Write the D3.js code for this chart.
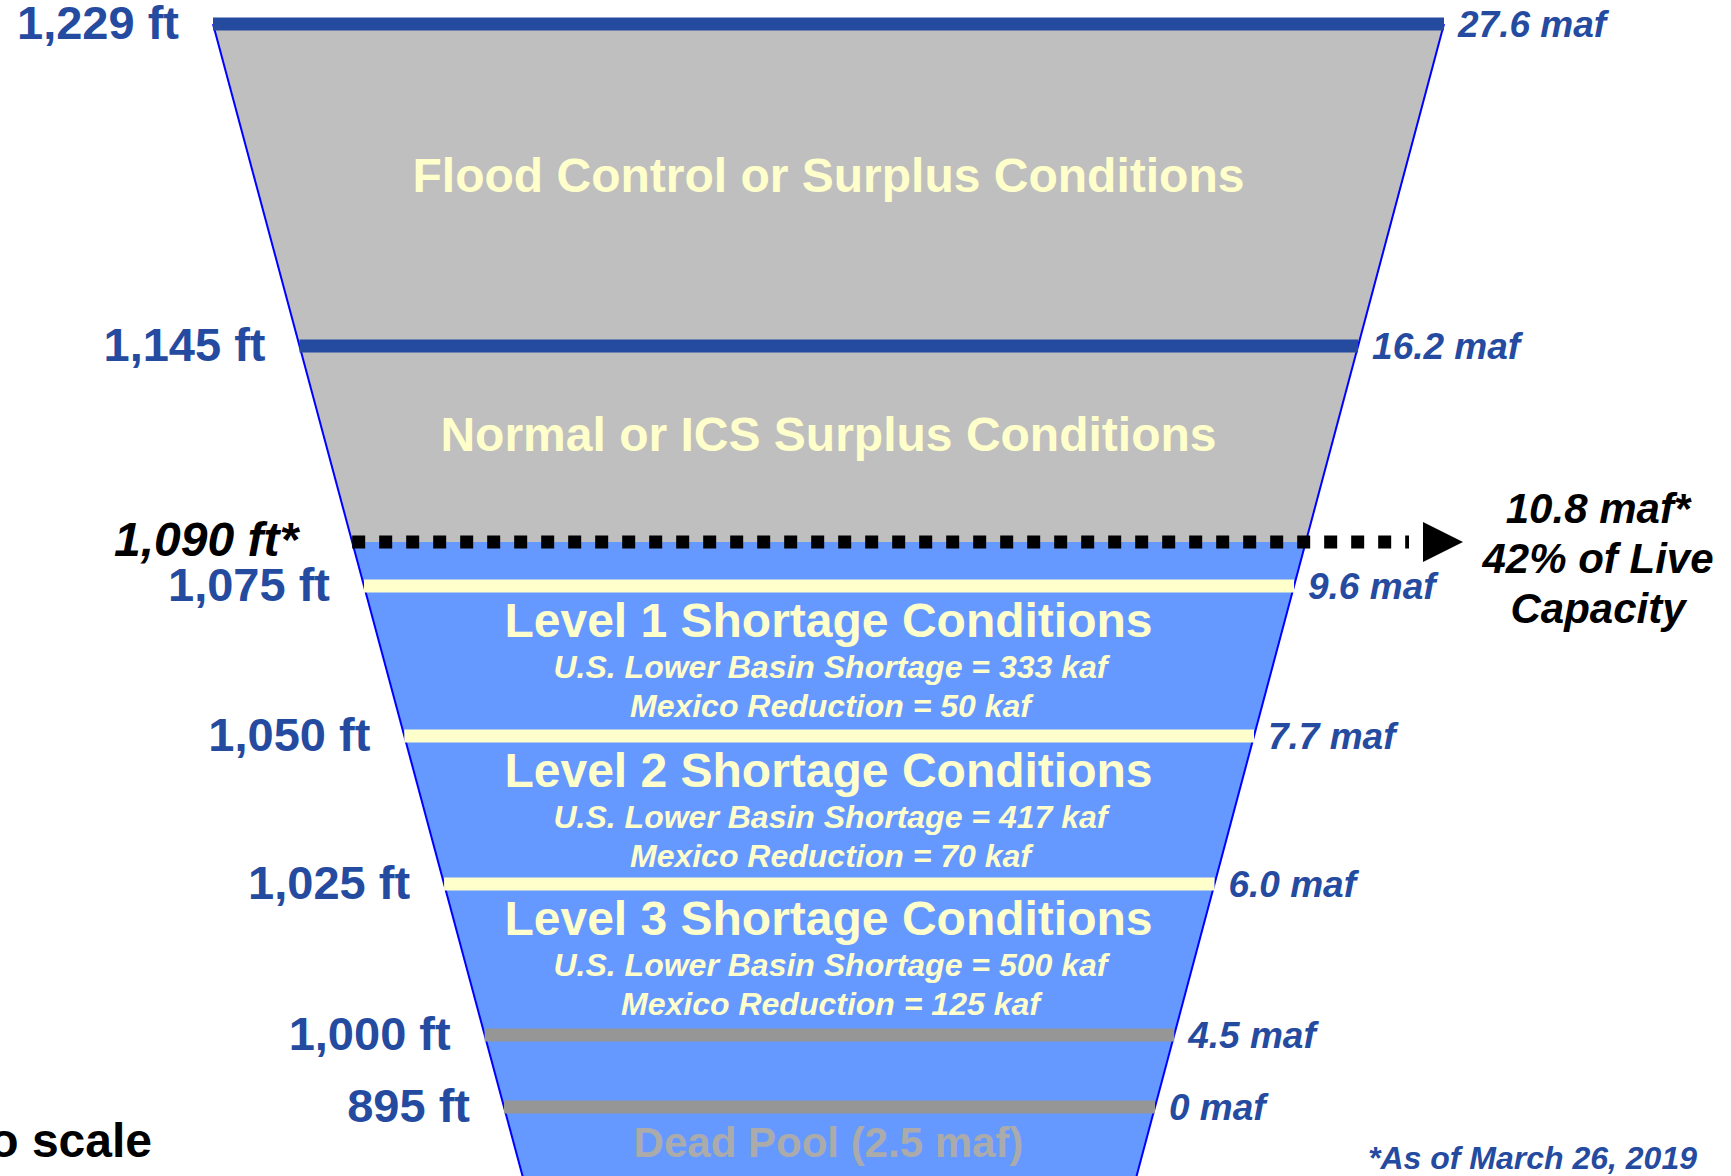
<!DOCTYPE html>
<html lang="en">

<head>
    <meta charset="UTF-8">
    <title>Lake Mead operating tiers</title>
    <style>
        * {
            margin: 0;
            padding: 0;
        }

        html,
        body {
            overflow: hidden;
            background: #fff;
        }

        text {
            font-family: 'Liberation Sans', Arial, sans-serif;
            font-weight: bold;
        }
    </style>
</head>

<body>
    <div id="chart"></div>
    <script src="https://cdn.jsdelivr.net/npm/d3@7"></script>
    <script>
        // tier lines: elevation and storage
        const levelFt = [1229, 1145, 1075, 1050, 1025, 1000, 895]
        const levelMaf = [27.6, 16.2, 9.6, 7.7, 6.0, 4.5, 0]

        // current lake level
        const currentFt = 1090
        const currentMaf = 10.8
        const currentPct = 42
        const asOfDate = 'March 26, 2019'

        // condition zones
        const zoneNames = [
            'Flood Control or Surplus Conditions',
            'Normal or ICS Surplus Conditions',
            'Level 1 Shortage Conditions',
            'Level 2 Shortage Conditions',
            'Level 3 Shortage Conditions'
        ]
        const zoneTopFt = [1229, 1145, 1075, 1050, 1025]
        const zoneBottomFt = [1145, 1090, 1050, 1025, 1000]
        const usShortageKaf = [null, null, 333, 417, 500]
        const mexicoKaf = [null, null, 50, 70, 125]
        const deadPoolMaf = 2.5

        function drawChart() {
            const width = 1731
            const height = 1176
            const svg = d3.select('#chart')
                .append('svg')
                .attr('width', width)
                .attr('height', height)
                .style('background', '#fff')

            const navy = '#254BA0'
            const cream = '#FFFFCC'

            // not to scale: piecewise mapping of elevations to the funnel
            const y = d3.scaleLinear()
                .domain([1229, 1145, 1090, 1075, 1050, 1025, 1000, 895])
                .range([24, 346, 542, 586, 736, 884, 1035, 1107])

            // funnel edges
            const leftX = d3.scaleLinear().domain([24, 1107]).range([213, 504])
            const rightX = d3.scaleLinear().domain([24, 1107]).range([1444, 1155])

            // navy above 1,145 ft, cream for shortage tiers, gray below
            const lineColor = d3.scaleThreshold()
                .domain([1025, 1145])
                .range(['#969696', cream, navy])

            const fmtFt = d => d3.format(',')(d) + ' ft'
            const fmtMaf = d => (d === 0 ? '0' : d3.format('.1f')(d)) + ' maf'

            const yTop = y(1229)
            const yNow = y(currentFt)
            const yBot = height + 10

            // gray (empty) part and blue (water) part
            svg.append('polygon')
                .attr('points', [[leftX(yTop), yTop], [rightX(yTop), yTop], [rightX(yNow), yNow], [leftX(yNow), yNow]].join(' '))
                .attr('fill', '#BFBFBF')
            svg.append('polygon')
                .attr('points', [[leftX(yNow), yNow], [rightX(yNow), yNow], [rightX(yBot), yBot], [leftX(yBot), yBot]].join(' '))
                .attr('fill', '#6699FF')

            svg.selectAll('line.edge')
                .data([leftX, rightX])
                .join('line')
                .attr('class', 'edge')
                .attr('x1', f => f(yTop))
                .attr('y1', yTop)
                .attr('x2', f => f(yBot))
                .attr('y2', yBot)
                .attr('stroke', '#0000FF')
                .attr('stroke-width', 2)

            // tier lines
            svg.selectAll('rect.level')
                .data(levelFt)
                .join('rect')
                .attr('class', 'level')
                .attr('x', d => leftX(y(d)))
                .attr('y', d => y(d) - 6.5)
                .attr('width', d => rightX(y(d)) - leftX(y(d)))
                .attr('height', 13)
                .attr('fill', d => lineColor(d))

            // elevation labels
            svg.selectAll('text.ft')
                .data(levelFt)
                .join('text')
                .attr('class', 'ft')
                .attr('x', d => leftX(y(d)) - 34)
                .attr('y', d => y(d) + 15)
                .attr('text-anchor', 'end')
                .attr('font-size', 47)
                .attr('fill', navy)
                .text(fmtFt)

            // storage labels
            svg.selectAll('text.maf')
                .data(levelFt)
                .join('text')
                .attr('class', 'maf')
                .attr('x', d => rightX(y(d)) + 14)
                .attr('y', d => y(d) + 13)
                .attr('font-size', 37)
                .attr('font-style', 'italic')
                .attr('fill', navy)
                .text((d, i) => fmtMaf(levelMaf[i]))

            // zone titles
            const zones = zoneNames.map((name, i) => ({
                name,
                top: y(zoneTopFt[i]),
                bottom: y(zoneBottomFt[i]),
                us: usShortageKaf[i],
                mx: mexicoKaf[i]
            }))
            const cx = (leftX(0) + rightX(0)) / 2

            svg.selectAll('text.zone')
                .data(zones)
                .join('text')
                .attr('class', 'zone')
                .attr('x', cx)
                .attr('y', d => d.us === null ? (d.top + d.bottom) / 2 + 7 : d.top + 51)
                .attr('text-anchor', 'middle')
                .attr('font-size', 48)
                .attr('fill', cream)
                .text(d => d.name)

            const subs = zones.filter(d => d.us !== null)
            svg.selectAll('text.us')
                .data(subs)
                .join('text')
                .attr('class', 'us')
                .attr('x', cx + 2)
                .attr('y', d => d.top + 92)
                .attr('text-anchor', 'middle')
                .attr('font-size', 32)
                .attr('font-style', 'italic')
                .attr('fill', cream)
                .text(d => `U.S. Lower Basin Shortage = ${d.us} kaf`)
            svg.selectAll('text.mx')
                .data(subs)
                .join('text')
                .attr('class', 'mx')
                .attr('x', cx + 2)
                .attr('y', d => d.top + 131)
                .attr('text-anchor', 'middle')
                .attr('font-size', 32)
                .attr('font-style', 'italic')
                .attr('fill', cream)
                .text(d => `Mexico Reduction = ${d.mx} kaf`)

            svg.append('text')
                .attr('x', cx)
                .attr('y', y(895) + 50)
                .attr('text-anchor', 'middle')
                .attr('font-size', 42)
                .attr('fill', '#ABABAB')
                .text(`Dead Pool (${deadPoolMaf} maf)`)

            // current level: dotted line + arrow
            svg.append('line')
                .attr('x1', leftX(yNow))
                .attr('x2', 1409)
                .attr('y1', yNow)
                .attr('y2', yNow)
                .attr('stroke', '#000')
                .attr('stroke-width', 13)
                .attr('stroke-dasharray', '13 14')
            svg.append('polygon')
                .attr('points', [[1423, yNow - 20], [1463, yNow], [1423, yNow + 20]].join(' '))
                .attr('fill', '#000')

            svg.append('text')
                .attr('x', leftX(yNow) - 54)
                .attr('y', yNow + 14)
                .attr('text-anchor', 'end')
                .attr('font-size', 48)
                .attr('font-style', 'italic')
                .attr('fill', '#000')
                .text(fmtFt(currentFt) + '*')

            svg.selectAll('text.note')
                .data([`${currentMaf} maf*`, `${currentPct}% of Live`, 'Capacity'])
                .join('text')
                .attr('class', 'note')
                .attr('x', 1598)
                .attr('y', (d, i) => 523 + i * 50)
                .attr('text-anchor', 'middle')
                .attr('font-size', 42)
                .attr('font-style', 'italic')
                .attr('fill', '#000')
                .text(d => d)

            // footnotes
            svg.append('text')
                .attr('x', 152)
                .attr('y', 1157)
                .attr('text-anchor', 'end')
                .attr('font-size', 48)
                .attr('fill', '#000')
                .text('Not to scale')

            svg.append('text')
                .attr('x', 1697)
                .attr('y', 1169)
                .attr('text-anchor', 'end')
                .attr('font-size', 32)
                .attr('font-style', 'italic')
                .attr('fill', navy)
                .text('*As of ' + asOfDate)
        }

        drawChart()
    </script>
</body>

</html>
